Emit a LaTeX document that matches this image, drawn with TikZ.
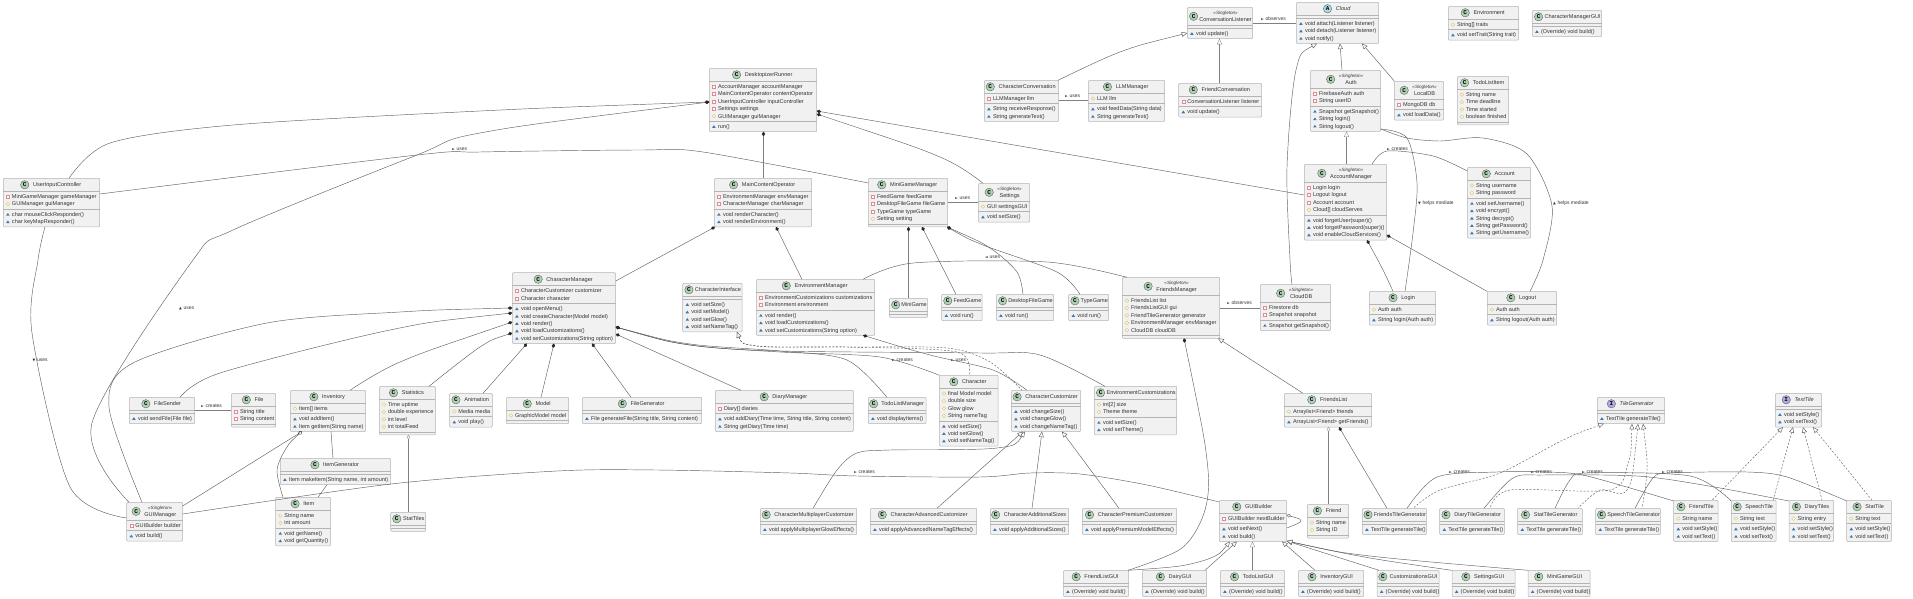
\documentclass[tikz,border=0pt]{standalone}
\usepackage{fontspec}
\setmainfont{Liberation Sans}
\newfontfamily\symfont{DejaVu Sans}
\newfontfamily\iconfont{Liberation Mono}
\usetikzlibrary{arrows.meta}

\definecolor{boxfill}{HTML}{F1F1F1}
\definecolor{boxline}{HTML}{B4B4B4}
\definecolor{iconC}{HTML}{ADD1B2}
\definecolor{iconA}{HTML}{A9DCDF}
\definecolor{iconI}{HTML}{B4A7E5}
\definecolor{packblue}{HTML}{4177AF}
\definecolor{privred}{HTML}{E08A92}
\definecolor{protgold}{HTML}{D8BC60}

\newcommand{\classfont}{\fontsize{5.55}{6.3}\selectfont}
\newcommand{\stereofont}{\fontsize{4.6}{5}\selectfont\itshape}
\newcommand{\labelfont}{\fontsize{5}{6}\selectfont}
\newcommand{\tri}[1]{{\symfont\fontsize{3.6}{4}\selectfont #1}\hspace{1.6pt}}

\newcommand{\markpriv}[2]{\draw[markpriv] (#1-1.4,#2-1.4) rectangle (#1+1.4,#2+1.4);}
\newcommand{\markprot}[2]{\draw[markprot] (#1-1.8,#2) -- (#1,#2-1.8) -- (#1+1.8,#2) -- (#1,#2+1.8) -- cycle;}
\newcommand{\markpack}[2]{\fill[markpack] (#1-1.8,#2+1.3) -- (#1,#2-1.4) -- (#1+1.8,#2+1.3) -- cycle;}

% id, left, top, width, letter, stereotype, title, attributes, methods
\newcommand{\classbox}[9]{%
  \gdef\nA{0}\gdef\nM{0}%
  \def\tmp{#8}\ifx\tmp\empty\else\foreach \mk/\txt [count=\n] in {#8} {\xdef\nA{\n}}\fi
  \def\tmp{#9}\ifx\tmp\empty\else\foreach \mk/\txt [count=\n] in {#9} {\xdef\nM{\n}}\fi
  \def\tmp{#6}\ifx\tmp\empty\def\hd{13}\def\ybase{8.4}\def\yicon{6.5}\else\def\hd{18}\def\ybase{14}\def\yicon{9}\fi
  \pgfmathsetmacro\ya{#3+\hd}
  \pgfmathsetmacro\yb{\ya+3+7.4*\nA}
  \pgfmathsetmacro\yc{\yb+3+7.4*\nM}
  \pgfmathsetmacro\hh{\yc-#3}
  \node[classnode, anchor=north west, minimum width=#4pt, minimum height=\hh pt] (#1) at (#2,#3) {};
  \draw[classline] (#1.west |- 0,\ya) -- (#1.east |- 0,\ya);
  \draw[classline] (#1.west |- 0,\yb) -- (#1.east |- 0,\yb);
  % header: the icon goes left of the widest title line
  \pgfmathsetmacro\xt{#2+#4/2+5.6}
  \pgfmathsetmacro\yt{#3+\ybase}
  \pgfmathsetmacro\yi{#3+\yicon}
  \node[classtext, anchor=base] (#1-t) at (\xt,\yt) {#7};
  \pgfpointdiff{\pgfpointanchor{#1-t}{west}}{\pgfpointanchor{#1-t}{east}}\pgfgetlastxy{\dx}{\dy}
  \pgfmathsetmacro\tw{\dx}
  \ifx\tmp\empty\else
    \pgfmathsetmacro\ys{#3+7.2}
    \node[classstereo, anchor=base] (#1-s) at (\xt,\ys) {#6};
    \pgfpointdiff{\pgfpointanchor{#1-s}{west}}{\pgfpointanchor{#1-s}{east}}\pgfgetlastxy{\dx}{\dy}
    \pgfmathsetmacro\tw{max(\tw,\dx)}
  \fi
  \pgfmathsetmacro\gp{max(1.5,min(4,#4-8.6-\tw-3))}
  \pgfmathsetmacro\xi{\xt-\tw/2-\gp-4.3}
  \node[classicon, fill=icon#5] (#1-i) at (\xi,\yi) {#5};
  % members
  \pgfmathsetmacro\xm{#2+4.6}
  \pgfmathsetmacro\xx{#2+8.7}
  \def\tmp{#8}\ifx\tmp\empty\else
    \foreach \mk/\txt [count=\n] in {#8} {
      \pgfmathsetmacro\yy{\ya+5.3+7.4*(\n-1)}
      \pgfmathsetmacro\yq{\yy+1.9}
      \csname mark\mk\endcsname{\xm}{\yy}
      \node[classtext, anchor=base west] (#1-a\n) at (\xx,\yq) {\txt};
    }
  \fi
  \def\tmp{#9}\ifx\tmp\empty\else
    \foreach \mk/\txt [count=\n] in {#9} {
      \pgfmathsetmacro\yy{\yb+5.3+7.4*(\n-1)}
      \pgfmathsetmacro\yq{\yy+1.9}
      \csname mark\mk\endcsname{\xm}{\yy}
      \node[classtext, anchor=base west] (#1-m\n) at (\xx,\yq) {\txt};
    }
  \fi
}

\begin{document}
\begin{tikzpicture}[
    x=1pt, y=-1pt,
    % Class box styles
    classnode/.style={rectangle, draw=boxline, fill=boxfill, line width=.5pt, rounded corners=1pt, inner sep=0pt, outer sep=0pt},
    classline/.style={draw=boxline, line width=.5pt},
    classtext/.style={font=\classfont, text=black!80, inner sep=0pt, outer sep=0pt},
    classstereo/.style={font=\stereofont, text=black!80, inner sep=0pt, outer sep=0pt},
    classicon/.style={circle, draw=black!70, line width=.3pt, minimum size=8.4pt, inner sep=0pt, font=\iconfont\bfseries\fontsize{6}{6}\selectfont},
    % Member markers
    markpriv/.style={draw=privred, fill=white, line width=.35pt},
    markprot/.style={draw=protgold, fill=yellow!12, line width=.35pt},
    markpack/.style={fill=packblue},
    % Edge styles
    line/.style={draw=black!62, line width=.45pt},
    axis/.style={draw=black!50, line width=.3pt},
    comp/.style={line, {Diamond[length=4.6pt,width=3.4pt,black!85]}-},
    aggr/.style={line, {Diamond[length=4.6pt,width=3.4pt,fill=white]}-},
    inherit/.style={line, {Triangle[length=5.6pt,width=5pt,fill=white]}-},
    realize/.style={line, dash pattern=on 2pt off 1.6pt, {Triangle[length=5.6pt,width=5pt,fill=white,sep=0pt]}-},
    lbl/.style={font=\labelfont, text=black!80, anchor=base west, inner sep=0pt}
]
\useasboundingbox (0,0) rectangle (1913,599);

% -----------------------------------------------------------
% Top rows
% -----------------------------------------------------------
\classbox{convlist}{1187.3}{7.3}{65.4}{C}{«Singleton»}{ConversationListener}{}{pack/void update()}
\classbox{cloud}{1296.3}{2.3}{82.4}{A}{}{\itshape Cloud}{}{pack/void attach(Listener listener),pack/void detach(Listener listener),pack/void notify()}
\classbox{envt}{1448.3}{6.3}{70.4}{C}{}{Environment}{prot/String[] traits}{pack/void setTrait(String trait)}
\classbox{charmgrgui}{1532.3}{10.3}{69.4}{C}{}{CharacterManagerGUI}{}{pack/(Override) void build()}
\classbox{runner}{709.3}{68.3}{107.4}{C}{}{DesktopizerRunner}{priv/AccountManager accountManager,priv/MainContentOperator contentOperator,priv/UserInputController inputController,priv/Settings settings,prot/GUIManager guiManager}{pack/run()}
\classbox{charconv}{984.3}{80.3}{74.4}{C}{}{CharacterConversation}{priv/LLMManager llm}{pack/String receiveResponse(),pack/String generateText()}
\classbox{llm}{1088.3}{80.3}{76.4}{C}{}{LLMManager}{prot/LLM llm}{pack/void feedData(String data),pack/String generateText()}
\classbox{friendconv}{1178.7}{83.3}{83}{C}{}{FriendConversation}{priv/ConversationListener listener}{pack/void update()}
\classbox{auth}{1310.3}{70.3}{70.4}{C}{«Singleton»}{Auth}{priv/FirebaseAuth auth,priv/String userID}{pack/Snapshot getSnapshot(),pack/String login(),pack/String logout()}
\classbox{localdb}{1394.3}{81.3}{49.4}{C}{«Singleton»}{LocalDB}{priv/MongoDB db}{pack/void loadData()}
\classbox{todoitem}{1457.3}{76.3}{51.4}{C}{}{TodoListItem}{prot/String name,prot/Time deadline,prot/Time started,prot/boolean finished}{}

% -----------------------------------------------------------
% Second row
% -----------------------------------------------------------
\classbox{uic}{3.3}{178.3}{96.4}{C}{}{UserInputController}{priv/MiniGameManager gameManager,prot/GUIManager guiManager}{pack/char mouseClickResponder(),pack/char keyMapResponder()}
\classbox{mainop}{714.3}{178.3}{97.4}{C}{}{MainContentOperator}{priv/EnvironmentManager envManager,priv/CharacterManager charManager}{pack/void renderCharacter(),pack/void renderEnvironment()}
\classbox{minimgr}{868.3}{178.3}{79.4}{C}{}{MiniGameManager}{priv/FeedGame feedGame,priv/DesktopFileGame fileGame,priv/TypeGame typeGame,prot/Setting setting}{}
\classbox{settings}{978.3}{183.3}{51.4}{C}{«Singleton»}{Settings}{prot/GUI settingsGUI}{pack/void setSize()}
\classbox{acctmgr}{1304.3}{164.3}{82.4}{C}{«Singleton»}{AccountManager}{priv/Login login,priv/Logout logout,priv/Account account,prot/Cloud[] cloudServes}{pack/void forgetUser(super)(),pack/void forgetPassword(super)(),pack/void enableCloudServices()}
\classbox{account}{1467.3}{167.3}{63.4}{C}{}{Account}{prot/String username,prot/String password}{pack/void setUsername(),pack/void encrypt(),pack/String decrypt(),pack/String getPassword(),pack/String getUsername()}

% -----------------------------------------------------------
% Third row
% -----------------------------------------------------------
\classbox{charmgr}{512.3}{272.7}{103.4}{C}{}{CharacterManager}{priv/CharacterCustomizer customizer,priv/Character character}{pack/void openMenu(),pack/void createCharacter(Model model),pack/void render(),pack/void loadCustomizations(),pack/void setCustomizations(String option)}
\classbox{charif}{682.7}{283.3}{59.3}{C}{}{CharacterInterface}{}{pack/void setSize(),pack/void setModel(),pack/void setGlow(),pack/void setNameTag()}
\classbox{envmgr}{756.3}{279.3}{118.4}{C}{}{EnvironmentManager}{priv/EnvironmentCustomizations customizations,priv/Environment environment}{pack/void render(),pack/void loadCustomizations(),pack/void setCustomizations(String option)}
\classbox{minigame}{889.3}{298.3}{38.4}{C}{}{MiniGame}{}{}
\classbox{feedgame}{941.7}{294.3}{40.3}{C}{}{FeedGame}{}{pack/void run()}
\classbox{deskgame}{996.3}{294.3}{57.4}{C}{}{DesktopFileGame}{}{pack/void run()}
\classbox{typegame}{1068.7}{294.3}{40}{C}{}{TypeGame}{}{pack/void run()}
\classbox{friendsmgr}{1122.3}{277.3}{97.4}{C}{«Singleton»}{FriendsManager}{prot/FriendsList list,prot/FriendsListGUI gui,prot/FriendTileGenerator generator,prot/EnvironmentManager envManager,prot/CloudDB cloudDB}{}
\classbox{clouddb}{1260.3}{284.3}{70.4}{C}{«Singleton»}{CloudDB}{priv/Firestore db,priv/Snapshot snapshot}{pack/Snapshot getSnapshot()}
\classbox{login}{1369.3}{291.3}{66.4}{C}{}{Login}{prot/Auth auth}{pack/String login(Auth auth)}
\classbox{logout}{1487.3}{291.3}{69.4}{C}{}{Logout}{prot/Auth auth}{pack/String logout(Auth auth)}

% -----------------------------------------------------------
% Fourth row
% -----------------------------------------------------------
\classbox{filesender}{129.3}{397.3}{65.4}{C}{}{FileSender}{}{pack/void sendFile(File file)}
\classbox{file}{231.3}{393.3}{44.4}{C}{}{File}{priv/String title,priv/String content}{}
\classbox{inventory}{290.3}{390.3}{75.4}{C}{}{Inventory}{prot/Item[] items}{pack/void addItem(),pack/Item getItem(String name)}
\classbox{stats}{379.3}{386.3}{56}{C}{}{Statistics}{prot/Time uptime,prot/double experience,prot/int level,prot/int totalFeed}{}
\classbox{animation}{449.7}{393.3}{42.6}{C}{}{Animation}{prot/Media media}{pack/void play()}
\classbox{model}{506.3}{397.3}{62.4}{C}{}{Model}{prot/GraphicModel model}{}
\classbox{filegen}{582.3}{397.3}{119.4}{C}{}{FileGenerator}{}{pack/{File generateFile(String title, String content)}}
\classbox{diarymgr}{715.3}{390.3}{138}{C}{}{DiaryManager}{priv/Diary[] diaries}{pack/{void addDiary(Time time, String title, String content)},pack/String getDiary(Time time)}
\classbox{todomgr}{868.3}{397.3}{57.7}{C}{}{TodoListManager}{}{pack/void displayItems()}
\classbox{character}{939.3}{375.3}{58.7}{C}{}{Character}{prot/final Model model,prot/double size,prot/Glow glow,prot/String nameTag}{pack/void setSize(),pack/void setGlow(),pack/void setNameTag()}
\classbox{charcust}{1011.3}{390.3}{69.4}{C}{}{CharacterCustomizer}{}{pack/void changeSize(),pack/void changeGlow(),pack/void changeNameTag()}
\classbox{envcust}{1094.3}{386.3}{82.4}{C}{}{EnvironmentCustomizations}{prot/int[2] size,prot/Theme theme}{pack/void setSize(),pack/void setTheme()}
\classbox{friendslist}{1284.3}{393.3}{87.4}{C}{}{FriendsList}{prot/Arraylist<Friend> friends}{pack/ArrayList<Friend> getFriends()}
\classbox{tilegen}{1597.3}{397.3}{67.4}{I}{}{\itshape TileGenerator}{}{pack/TextTile generateTile()}
\classbox{texttile}{1775.3}{393.3}{46.4}{I}{}{\itshape TextTile}{}{pack/void setStyle(),pack/void setText()}

% -----------------------------------------------------------
% Lower rows
% -----------------------------------------------------------
\classbox{itemgen}{280.3}{458.3}{110.4}{C}{}{ItemGenerator}{}{pack/{Item makeItem(String name, int amount)}}
\classbox{item}{275.7}{497.3}{55}{C}{}{Item}{prot/String name,prot/int amount}{pack/void getName(),pack/void getQuantity()}
\classbox{guimgr}{126.7}{502.3}{56}{C}{«Singleton»}{GUIManager}{priv/GUIBuilder builder}{pack/void build()}
\classbox{stattiles}{390.7}{512.3}{35}{C}{}{StatTiles}{}{}
\classbox{multicust}{760.3}{508.3}{96.4}{C}{}{CharacterMultiplayerCustomizer}{}{pack/void applyMultiplayerGlowEffects()}
\classbox{advcust}{870.3}{508.3}{106.4}{C}{}{CharacterAdvancedCustomizer}{}{pack/void applyAdvancedNameTagEffects()}
\classbox{addsizes}{990.3}{508.3}{78.4}{C}{}{CharacterAdditionalSizes}{}{pack/void applyAdditionalSizes()}
\classbox{premcust}{1082.3}{508.3}{94.4}{C}{}{CharacterPremiumCustomizer}{}{pack/void applyPremiumModelEffects()}
\classbox{guibuilder}{1219.3}{500.3}{67.4}{C}{}{GUIBuilder}{priv/GUIBuilder nextBuilder}{pack/void setNext(),pack/void build()}
\classbox{friend}{1307.3}{504.3}{41.4}{C}{}{Friend}{prot/String name,prot/String ID}{}
\classbox{ftgen}{1362.3}{508.3}{64}{C}{}{FriendsTileGenerator}{}{pack/TextTile generateTile()}
\classbox{dtgen}{1439.7}{508.3}{64.6}{C}{}{DiaryTileGenerator}{}{pack/TextTile generateTile()}
\classbox{stgen}{1517.7}{508.3}{64.6}{C}{}{StatTileGenerator}{}{pack/TextTile generateTile()}
\classbox{sptgen}{1595.7}{508.3}{64.6}{C}{}{SpeechTileGenerator}{}{pack/TextTile generateTile()}
\classbox{friendtile}{1673.7}{500.3}{44.3}{C}{}{FriendTile}{prot/String name}{pack/void setStyle(),pack/void setText()}
\classbox{speechtile}{1731.3}{500.3}{44.7}{C}{}{SpeechTile}{prot/String text}{pack/void setStyle(),pack/void setText()}
\classbox{diarytile}{1789}{500.3}{44.7}{C}{}{DiaryTiles}{prot/String entry}{pack/void setStyle(),pack/void setText()}
\classbox{stattile}{1846.7}{500.3}{44.7}{C}{}{StatTile}{prot/String text}{pack/void setStyle(),pack/void setText()}
\classbox{listgui}{1063.3}{570.3}{65.4}{C}{}{FriendListGUI}{}{pack/(Override) void build()}
\classbox{dairygui}{1142.3}{570.3}{64.4}{C}{}{DairyGUI}{}{pack/(Override) void build()}
\classbox{todogui}{1220.3}{570.3}{64.4}{C}{}{TodoListGUI}{}{pack/(Override) void build()}
\classbox{invgui}{1298.3}{570.3}{65.4}{C}{}{InventoryGUI}{}{pack/(Override) void build()}
\classbox{custgui}{1377}{570.3}{62}{C}{}{CustomizationsGUI}{}{pack/(Override) void build()}
\classbox{setgui}{1452}{570.3}{63}{C}{}{SettingsGUI}{}{pack/(Override) void build()}
\classbox{minigui}{1528}{570.3}{62}{C}{}{MiniGameGUI}{}{pack/(Override) void build()}

% -----------------------------------------------------------
% Connectors: DesktopizerRunner and its neighbours
% -----------------------------------------------------------
\draw[comp] plot[smooth] coordinates {(runner.west |- 0,102) (480,111) (233,125) (110,143) (uic.north -| 69,0)};
\draw[comp] plot[smooth] coordinates {(runner.west |- 0,102) (480,133) (417,155) (233,230) (193,260) (92,423) (guimgr.north -| 129,0)};
\draw[line] plot[smooth] coordinates {(uic.south -| 45,0) (38,260) (32,333) (70,487) (guimgr.west |- 0,518)};
\draw[line] plot[smooth] coordinates {(uic.east |- 0,194) (417,155) (480,152) (640,150) (703,152) (minimgr.west |- 0,183)};
\draw[comp, axis] (runner.south -| 763.5,0) -- (mainop.north -| 763.5,0);
\draw[comp] (runner.east |- 0,111) -- (acctmgr.west |- 0,195);
\draw[comp] plot[smooth] coordinates {(runner.east |- 0,114) (940,157) (settings.north -| 983,0)};
\draw[comp] (mainop.south -| 715,0) -- (charmgr.east |- 0,281);
\draw[comp] (mainop.south -| 776,0) -- (envmgr.north -| 802,0);

% MiniGameManager
\draw[comp, axis] (minimgr.south -| 908.5,0) -- (minigame.north -| 908.5,0);
\draw[comp] (minimgr.south -| 922,0) -- (feedgame.north -| 956,0);
\draw[comp] plot[smooth] coordinates {(minimgr.south -| 947,0) (990,248) (1017,272) (deskgame.north -| 1023,0)};
\draw[comp] plot[smooth] coordinates {(minimgr.south -| 947,0) (983,245) (1057,272) (typegame.north -| 1080,0)};
\draw[line, axis] (minimgr.east |- 0,202.5) -- (settings.west |- 0,202.5);

% Conversations and cloud
\draw[inherit] plot[smooth] coordinates {(convlist.west |- 0,33) (1120,52) (charconv.north -| 1058,0)};
\draw[inherit, axis] (convlist.south -| 1219.5,0) -- (friendconv.north -| 1219.5,0);
\draw[line, axis] (charconv.east |- 0,100.5) -- (llm.west |- 0,100.5);
\draw[line, axis] (convlist.east |- 0,23.5) -- (cloud.west |- 0,23.5);
\draw[inherit] plot[smooth] coordinates {(cloud.south -| 1317,0) (1296,70) (1287,167) (1290,260) (clouddb.north -| 1292,0)};
\draw[inherit] (cloud.south -| 1340,0) -- (auth.north -| 1342,0);
\draw[inherit] (cloud.south -| 1362,0) -- (localdb.north -| 1394.5,0);
\draw[inherit, axis] (auth.south -| 1346.5,0) -- (acctmgr.north -| 1346.5,0);
\draw[line] plot[smooth] coordinates {(acctmgr.north -| 1372,0) (1387,151) (1433,156) (account.west |- 0,171)};
\draw[line] plot[smooth] coordinates {(auth.east |- 0,129) (1407,138) (1417,183) (1413,233) (login.north -| 1405,0)};
\draw[line] plot[smooth] coordinates {(auth.east |- 0,129) (1407,138) (1440,141) (1483,138) (1527,154) (1552,206) (1543,260) (logout.north -| 1530,0)};
\draw[comp] plot[smooth] coordinates {(acctmgr.south -| 1367,0) (1383,270) (login.north -| 1393,0)};
\draw[comp] (acctmgr.east |- 0,235) -- (logout.west |- 0,291.5);

% CharacterManager
\draw[comp] plot[smooth] coordinates {(charmgr.west |- 0,308) (400,312) (267,323) (133,363) (109,407) (guimgr.north -| 142,0)};
\draw[comp] plot[smooth] coordinates {(charmgr.west |- 0,313) (390,330) (220,373) (filesender.north -| 180,0)};
\draw[comp] plot[smooth] coordinates {(charmgr.west |- 0,322) (400,362) (inventory.north -| 350,0)};
\draw[comp] plot[smooth] coordinates {(charmgr.west |- 0,333) (480,347) (stats.north -| 429,0)};
\draw[comp] (charmgr.south -| 527,0) -- (animation.north -| 483,0);
\draw[comp] (charmgr.south -| 554,0) -- (model.north -| 541,0);
\draw[comp] (charmgr.south -| 592,0) -- (filegen.north -| 631,0);
\draw[comp] (charmgr.east |- 0,334) -- (diarymgr.north -| 741,0);
\draw[comp] plot[smooth] coordinates {(charmgr.east |- 0,327) (690,344) (780,351) (847,360) (todomgr.north -| 887,0)};
\draw[comp] plot[smooth] coordinates {(charmgr.east |- 0,327) (690,345) (780,352) (880,357) (character.north -| 939.5,0)};
\draw[comp] plot[smooth] coordinates {(charmgr.east |- 0,327) (690,345) (780,351) (980,353) (1040,355) (envcust.north -| 1105,0)};
\draw[comp] plot[smooth] coordinates {(envmgr.south -| 863,0) (930,355) (993,370) (charcust.north -| 1027,0)};
\draw[realize] plot[smooth] coordinates {(charif.south -| 737,0) (757,346) (847,347) (957,352) (character.north -| 969,0)};
\draw[realize] plot[smooth] coordinates {(charif.south -| 737,0) (757,346) (847,347) (947,348) (990,362) (charcust.north -| 1022,0)};
\draw[line] plot[smooth] coordinates {(envmgr.north -| 863,0) (913,263) (1047,262) (friendsmgr.north -| 1127,0)};

% FriendsManager
\draw[line, axis] (friendsmgr.east |- 0,308.5) -- (clouddb.west |- 0,308.5);
\draw[inherit] (friendsmgr.south -| 1218,0) -- (friendslist.north -| 1303,0);
\draw[comp] plot[smooth] coordinates {(friendsmgr.south -| 1184,0) (1207,460) (1205,510) (1182,548) (listgui.north -| 1128,0)};
\draw[aggr, axis] (friendslist.south -| 1328.5,0) -- (friend.north -| 1328.5,0);
\draw[comp] (friendslist.south -| 1339,0) -- (ftgen.north -| 1387,0);

% Inventory and small neighbours
\draw[line, axis] (filesender.east |- 0,410.5) -- (file.west |- 0,410.5);
\draw[comp] (inventory.south -| 302,0) -- (guimgr.east |- 0,506);
\draw[aggr] plot[smooth] coordinates {(inventory.south -| 302,0) (287,447) (277,470) (item.north -| 283,0)};
\draw[line] (inventory.south -| 331,0) -- (itemgen.north -| 333,0);
\draw[line] (itemgen.south -| 327,0) -- (item.north -| 318,0);
\draw[aggr, axis] (stats.south -| 408.5,0) -- (stattiles.north -| 408.5,0);
\draw[line] plot[smooth] coordinates {(guimgr.east |- 0,514) (391,484) (557,471) (657,470) (790,473) (857,476) (980,477) (1030,473) (1080,474) (1147,485) (guibuilder.west |- 0,502)};

% CharacterCustomizer subclasses
\draw[inherit] plot[smooth] coordinates {(charcust.south -| 1025,0) (997,448) (890,450) (857,453) (837,470) (multicust.north -| 813,0)};
\draw[inherit] (charcust.south -| 1023,0) -- (advcust.north -| 937,0);
\draw[inherit] (charcust.south -| 1042,0) -- (addsizes.north -| 1032,0);
\draw[inherit] (charcust.south -| 1062,0) -- (premcust.north -| 1119,0);

% GUIBuilder
\draw[aggr] plot[smooth] coordinates {(guibuilder.east |- 0,515) (1301,521) (guibuilder.east |- 0,528)};
\draw[inherit] plot[smooth] coordinates {(guibuilder.south -| 1230,0) (1213,557) (1180,566) (listgui.north -| 1128,0)};
\draw[inherit] (guibuilder.south -| 1237,0) -- (dairygui.north -| 1205,0);
\draw[inherit, axis] (guibuilder.south -| 1252.5,0) -- (todogui.north -| 1252.5,0);
\draw[inherit] (guibuilder.south -| 1282,0) -- (invgui.north -| 1315,0);
\draw[inherit] (guibuilder.east |- 0,541) -- (custgui.north -| 1379,0);
\draw[inherit] plot[smooth] coordinates {(guibuilder.east |- 0,541) (1370,558) (setgui.north -| 1452,0)};
\draw[inherit] plot[smooth] coordinates {(guibuilder.east |- 0,541) (1370,556) (minigui.north -| 1528,0)};

% Tiles
\draw[line] plot[smooth] coordinates {(ftgen.north -| 1407,0) (1437,477) (1497,472) (1547,472) (1587,476) (friendtile.west |- 0,501)};
\draw[line] plot[smooth] coordinates {(dtgen.north -| 1484,0) (1513,478) (1543,475) (1637,476) (1703,485) (diarytile.west |- 0,501)};
\draw[line] plot[smooth] coordinates {(stgen.north -| 1555,0) (1570,480) (1587,473) (1690,476) (speechtile.west |- 0,501)};
\draw[line] plot[smooth] coordinates {(sptgen.north -| 1635,0) (1653,478) (1670,473) (1747,472) (1787,477) (stattile.west |- 0,501)};
\draw[realize] plot[smooth] coordinates {(tilegen.south -| 1604,0) (1563,440) (1500,473) (1440,490) (ftgen.north -| 1413,0)};
\draw[realize] plot[smooth] coordinates {(tilegen.south -| 1632,0) (1628,463) (1610,490) (1510,490) (dtgen.north -| 1490,0)};
\draw[realize] plot[smooth] coordinates {(tilegen.south -| 1638,0) (1627,490) (1600,490) (stgen.north -| 1578,0)};
\draw[realize] plot[smooth] coordinates {(tilegen.south -| 1643,0) (1647,470) (sptgen.north -| 1642,0)};
\draw[realize] (texttile.south -| 1783,0) -- (friendtile.north -| 1712,0);
\draw[realize] (texttile.south -| 1793,0) -- (speechtile.north -| 1773,0);
\draw[realize] (texttile.south -| 1803,0) -- (diarytile.north -| 1822,0);
\draw[realize] (texttile.south -| 1813,0) -- (stattile.north -| 1872,0);

% -----------------------------------------------------------
% Connector labels
% -----------------------------------------------------------
\node[lbl] (lblusesA) at (452,150.7) {\tri{►}uses};
\node[lbl] (lblusesB) at (32.5,361.7) {\tri{▼}uses};
\node[lbl] (lblusesC) at (179,309.7) {\tri{▲}uses};
\node[lbl] (lblcreatesA) at (201,407.7) {\tri{►}creates};
\node[lbl] (lblusesD) at (955,199.7) {\tri{►}uses};
\node[lbl] (lblusesE) at (985,258.7) {\tri{◄}uses};
\node[lbl] (lblcreatesB) at (892,361.7) {\tri{►}creates};
\node[lbl] (lblusesF) at (951,361.7) {\tri{►}uses};
\node[lbl] (lblusesG) at (1065,97.7) {\tri{►}uses};
\node[lbl] (lblobsA) at (1261,20.7) {\tri{►}observes};
\node[lbl] (lblcreatesC) at (1387,150.7) {\tri{►}creates};
\node[lbl] (lblhelpsA) at (1418,204.7) {\tri{▼}helps mediate};
\node[lbl] (lblhelpsB) at (1553,204.7) {\tri{▲}helps mediate};
\node[lbl] (lblobsB) at (1227,304.7) {\tri{►}observes};
\node[lbl] (lblcreatesD) at (854,473.7) {\tri{►}creates};
\node[lbl] (lblcreatesE) at (1449,473.7) {\tri{►}creates};
\node[lbl] (lblcreatesF) at (1531,473.7) {\tri{►}creates};
\node[lbl] (lblcreatesG) at (1582,473.7) {\tri{►}creates};
\node[lbl] (lblcreatesH) at (1662,473.7) {\tri{►}creates};

\end{tikzpicture}
\end{document}
